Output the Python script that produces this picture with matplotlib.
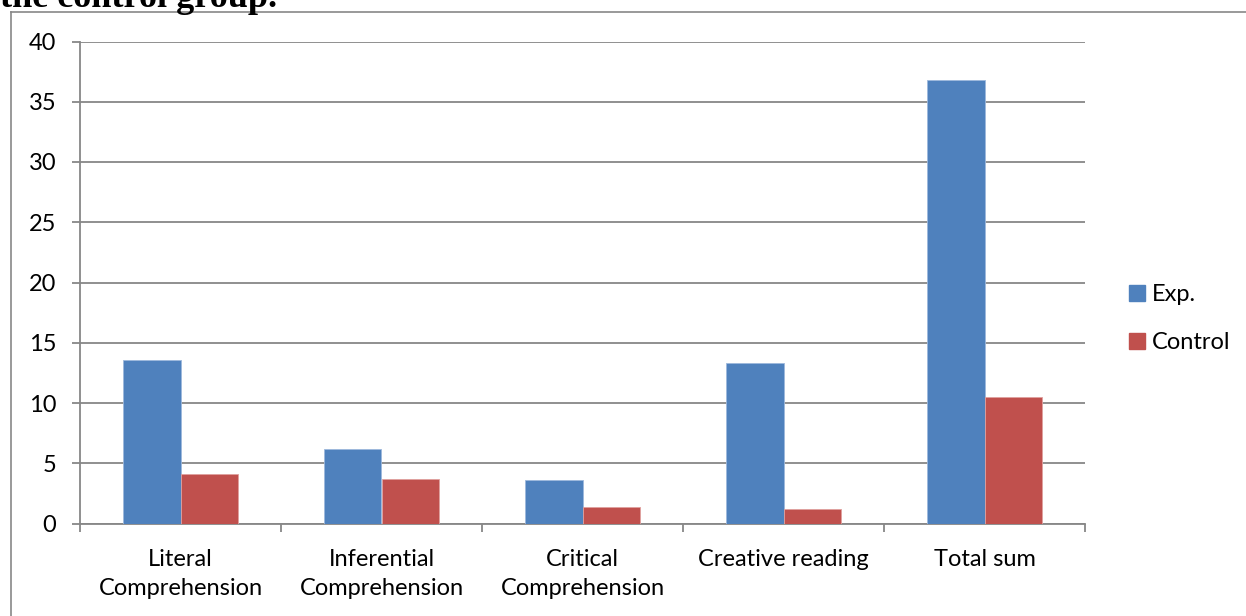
import matplotlib.pyplot as plt
import numpy as np
from matplotlib.lines import Line2D

plt.rcParams['font.family'] = ['Lato', 'DejaVu Sans']

categories = ['Literal\nComprehension', 'Inferential\nComprehension',
              'Critical\nComprehension', 'Creative reading', 'Total sum']
exp_scores = [13.6, 6.2, 3.6, 13.3, 36.8]
control_scores = [4.1, 3.7, 1.35, 1.2, 10.5]

blue = '#4F81BD'
red = '#C0504D'
grey = '#878787'
fs = 17

fig = plt.figure(figsize=(12.46, 6.16), dpi=100)
ax = fig.add_axes([80 / 1246, 1 - 523.5 / 616, 1005 / 1246, 482 / 616])

x = np.arange(len(categories))
w = 1 / 3.5  # gap width 150%
ax.bar(x - w / 2, exp_scores, w, color=blue, edgecolor='#9db8dc', linewidth=0.6,
       label='Exp.', zorder=3)
ax.bar(x + w / 2, control_scores, w, color=red, edgecolor='#e0a09e', linewidth=0.6,
       label='Control', zorder=3)

ax.set_xlim(-0.5, len(categories) - 0.5)
ax.set_ylim(0, 40)
ax.set_yticks(range(0, 41, 5))
ax.yaxis.grid(True, color=grey, linewidth=1.3)
ax.set_axisbelow(True)

for s in ['top', 'right']:
    ax.spines[s].set_visible(False)
for s in ['left', 'bottom']:
    ax.spines[s].set_color(grey)
    ax.spines[s].set_linewidth(1.3)

# labels in the middle, tick marks at category boundaries
ax.set_xticks(x)
ax.set_xticklabels(categories, fontsize=fs, linespacing=1.5, va='top')
ax.set_xticks(np.arange(-0.5, len(categories)), minor=True)
ax.tick_params(axis='x', which='major', length=0, pad=18)
ax.tick_params(axis='x', which='minor', length=6, width=1.3, color=grey, direction='out')
ax.tick_params(axis='y', length=6, width=1.3, color=grey, direction='out',
               labelsize=fs, pad=11)

handles = [Line2D([], [], marker='s', linestyle='none', markersize=11,
                  markerfacecolor=c, markeredgecolor=c) for c in (blue, red)]
fig.legend(handles, ['Exp.', 'Control'], loc='upper left',
           bbox_to_anchor=(1106 / 1246, 1 - 263 / 616), frameon=False,
           fontsize=fs, handlelength=0.8, handletextpad=0.25, labelspacing=1.15)

# outer frame of the chart area
fig.add_artist(Line2D([11 / 1246, 11 / 1246], [0, 1 - 12 / 616], color=grey,
                      linewidth=1.2, transform=fig.transFigure))
fig.add_artist(Line2D([11 / 1246, 1], [1 - 12 / 616, 1 - 12 / 616], color=grey,
                      linewidth=1.2, transform=fig.transFigure))

# caption line running off the top
fig.text(0, 1 - 7 / 616, 'the control group.', fontsize=26, fontweight='bold',
         family='Liberation Serif', va='baseline', ha='left')

fig.savefig('out.png', dpi=100)
